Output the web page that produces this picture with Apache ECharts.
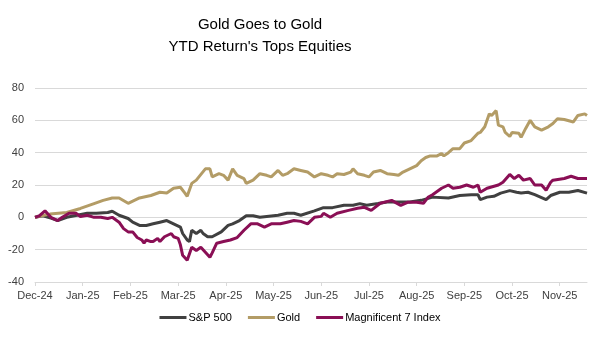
<!DOCTYPE html>
<html>
<head>
<meta charset="utf-8">
<script src="https://cdn.jsdelivr.net/npm/echarts@6/dist/echarts.min.js"></script>
<style>
html,body{margin:0;padding:0;background:#fff;}
#chart{width:600px;height:339px;}
</style>
</head>
<body>
<div id="chart"></div>
<script>
// Trading-day index (0 = 31 Dec 2024); one labelled tick every 21 trading days
const tickLabels = ['Dec-24','Jan-25','Feb-25','Mar-25','Apr-25','May-25','Jun-25','Jul-25','Aug-25','Sep-25','Oct-25','Nov-25'];
const tickStep = 21;
const lastDay = 243;

const spDays = [0,3.5,7,10,14,18.5,23,27,32,34,37,41,43,46,49,52,55,58,61,64,65,67,68,69,71,73,74,76,78,82,85,87,90,93,96,99,102,107,111,114,117,123,127,131,136,140,143,146,151,155,160,165,170,175,182,187,192,195,196,199,202,205,209,212,214,217,220,225,227,231,235,239,243];
const spValues = [0,1,-0.5,-2,0,1.3,2.5,2.5,3,3.8,1.3,-0.7,-3,-5,-5,-4,-3,-2,-4,-6,-10,-14,-15,-8,-10,-8,-10,-12,-12,-9,-5,-4,-2,1,1,0,0.5,1.3,2.5,2.5,1.3,4,6,6,7.5,7.5,8.5,7.5,8.5,9.5,9.5,9.5,10.5,12.5,12,13.5,14,14,11,12.5,13,15,16.5,15.5,15,15.5,14,11,13.5,15.5,15.5,16.6,15];

const goldDays = [0,6.6,14,20,26,30,34,37,41,46,51,55,58,61,64,66,67,69,71,75,77,78,81,83,85,87,89,92,93,96,99,102,104,107,109,111,114,117,120,123,126,129,131,133,136,139,140,142,145,147,149,152,155,158,160,162,165,168,170,172,174,177,179,180,182,184,187,189,192,195,196,198,200,201,203,204,206,207,209,210,213,214,216,218,220,223,226,228,230,233,237,239,242,243];
const goldValues = [0,2,3,5.5,8.5,10.5,12,12,8.7,12,13.5,15.5,15,18,18.6,15,13,21,23,30,30,25,27,26,23,30,26,24,21,23,27,26,25,29,26,27,30,29,28,25,27,26,25,27,26.5,28,30,27,26,25,28,29,27,26.5,26,28,30,32,35,37,38,38,39.5,38,40,42.5,42.5,46,47.5,52,52.5,56,64,63,66,57,56,52.5,50,52.5,52,49.5,55,60,56,54,56,58,61,60.5,59,63,64,63];

const magDays = [0,2,4.4,7,10,12,15,18,20,23,26,29,32,34,37,39,41,43,45,47,48,49,51,52,54,55,57,60,61,63,64,65,67,69,71,73,75,77,78,80,83,86,89,92,95,98,101,104,108,111,114,117,120,123,126,127,130,133,138,142,145,148,152,157,161,164,168,171,173,175,179,182,184,187,190,193,195,196,199,204,206,209,211,213,215,218,220,223,225,227,228,233,236,239,243];
const magValues = [0,1,4,0,-2,0,2.5,2.5,0.5,1.3,0,0,-0.7,0,-3,-7,-9,-9,-12.5,-14,-16,-14,-15,-15,-13,-15,-12,-10,-12,-13,-17,-23.5,-26.5,-18.5,-20.5,-18.5,-21.6,-24.7,-22,-16,-15,-14,-12.5,-8,-4,-4,-6,-4,-4,-3,-2,-2.5,-4,0,0.6,2.5,0,2.5,4.3,5.6,6.2,4.3,8.7,10.5,7.4,9.3,9.3,8.7,12.4,14,18,20,18,18.6,20,18.6,20,15.5,18,20,21.7,26.5,24,26,23,24,20,20,16.7,21.7,23,24,25.4,24,24];

const yMin = -40, yMax = 80, yStep = 20;

function pairs(xs, ys){ return xs.map((x,i)=>[x, ys[i]]); }
const tickValues = tickLabels.map((_, i) => i * tickStep);

const chart = echarts.init(document.getElementById('chart'), null, {renderer:'canvas'});
const font = '"Liberation Sans", Arial, sans-serif';
chart.setOption({
  animation: false,
  backgroundColor: '#ffffff',
  textStyle: {fontFamily: font},
  title: {
    text: 'Gold Goes to Gold\nYTD Return\'s Tops Equities',
    left: 255,
    top: 9,
    textAlign: 'center',
    textStyle: {fontFamily: font, fontSize: 15, fontWeight: 'normal', color: '#000', lineHeight: 22}
  },
  legend: {
    bottom: 11,
    left: 'center',
    itemWidth: 27,
    itemHeight: 3,
    itemGap: 16,
    icon: 'rect',
    textStyle: {fontFamily: font, fontSize: 11, color: '#000', padding: [0,0,0,-3]},
    data: ['S&P 500','Gold','Magnificent 7 Index']
  },
  grid: {left: 35, right: 13, top: 88, bottom: 57, containLabel: false},
  xAxis: [{
    type: 'value', min: 0, max: lastDay, position: 'bottom',
    axisLine: {show: false},
    axisTick: {show: false},
    splitLine: {show: false},
    axisLabel: {
      customValues: tickValues,
      formatter: v => tickLabels[Math.round(v / tickStep)] || '',
      fontFamily: font, fontSize: 11, color: '#404040', margin: 8
    }
  },{
    type: 'value', min: 0, max: lastDay, position: 'bottom',
    axisLine: {show: true, onZero: true, lineStyle: {color: '#d9d9d9', width: 1}},
    axisTick: {show: true, customValues: tickValues, length: 4, inside: false, lineStyle: {color: '#d9d9d9'}},
    axisLabel: {show: false},
    splitLine: {show: false}
  }],
  yAxis: {
    type: 'value', min: yMin, max: yMax, interval: yStep,
    axisLine: {show: false},
    axisTick: {show: false},
    splitLine: {lineStyle: {color: '#d9d9d9', width: 1}},
    axisLabel: {fontFamily: font, fontSize: 11, color: '#404040', margin: 11}
  },
  series: [
    {name: 'S&P 500', type: 'line', data: pairs(spDays, spValues), showSymbol: false, symbol: 'none',
     lineStyle: {color: '#404040', width: 3}, itemStyle: {color: '#404040'}},
    {name: 'Gold', type: 'line', data: pairs(goldDays, goldValues), showSymbol: false, symbol: 'none',
     lineStyle: {color: '#B39C66', width: 3}, itemStyle: {color: '#B39C66'}},
    {name: 'Magnificent 7 Index', type: 'line', data: pairs(magDays, magValues), showSymbol: false, symbol: 'none',
     lineStyle: {color: '#8A0F55', width: 3}, itemStyle: {color: '#8A0F55'}}
  ]
});
</script>
</body>
</html>
